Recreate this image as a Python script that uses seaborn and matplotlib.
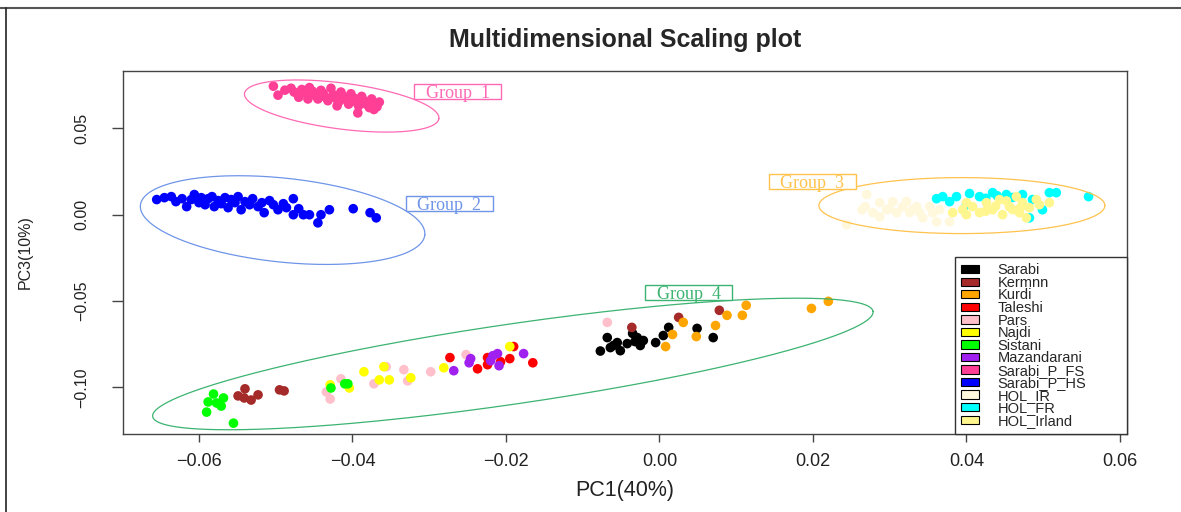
"""
Multidimensional Scaling plot
-----------------------------

PC1 vs PC3 of the MDS, one colour per breed, with the four group ellipses.
"""

import matplotlib
matplotlib.use("Agg")
import matplotlib.pyplot as plt
from matplotlib.patches import Patch, Rectangle
from matplotlib.lines import Line2D
import numpy as np
import pandas as pd
import seaborn as sns

# breeds and their colours (legend order)
breeds = ["Sarabi", "Kermnn", "Kurdi", "Taleshi", "Pars", "Najdi", "Sistani",
          "Mazandarani", "Sarabi_P_FS", "Sarabi_P_HS", "HOL_IR", "HOL_FR", "HOL_Irland"]
breed_colors = ["#000000", "#A52A2A", "#FFA500", "#FF0000", "#FFC0CB", "#FFFF00", "#00FF00",
                "#A020F0", "#FF3E96", "#0000FF", "#FFF8DC", "#00FFFF", "#FFF68F"]

# (PC1, PC3)
sarabi = [(-0.0077, -0.0790), (-0.0068, -0.0712), (-0.0064, -0.0770), (-0.0055, -0.0741),
          (-0.0051, -0.0788), (-0.0042, -0.0747), (-0.0035, -0.0688), (-0.0029, -0.0712),
          (-0.0025, -0.0747), (-0.0021, -0.0729), (-0.0025, -0.0758), (-0.0005, -0.0741),
          (0.0005, -0.0700), (0.0012, -0.0653), (0.0049, -0.0659), (0.0070, -0.0712),
          (-0.0060, -0.0758), (-0.0032, -0.0735)]
kermnn = [(-0.0549, -0.1050), (-0.0540, -0.1009), (-0.0541, -0.1062), (-0.0532, -0.1074),
          (-0.0523, -0.1044), (-0.0495, -0.1015), (-0.0489, -0.1021), (-0.0036, -0.0653),
          (0.0025, -0.0595), (0.0078, -0.0554)]
kurdi = [(0.0008, -0.0764), (0.0017, -0.0694), (0.0031, -0.0624), (0.0048, -0.0706),
         (0.0073, -0.0642), (0.0088, -0.0583), (0.0108, -0.0583), (0.0113, -0.0525),
         (0.0198, -0.0543), (0.0220, -0.0502)]
taleshi = [(-0.0273, -0.0828), (-0.0237, -0.0893), (-0.0224, -0.0869), (-0.0224, -0.0828),
           (-0.0207, -0.0852), (-0.0195, -0.0834), (-0.0190, -0.0764), (-0.0165, -0.0858)]
pars = [(-0.0434, -0.1027), (-0.0429, -0.1068), (-0.0415, -0.0951), (-0.0372, -0.0980),
        (-0.0356, -0.0881), (-0.0333, -0.0898), (-0.0328, -0.0963), (-0.0298, -0.0910),
        (-0.0252, -0.0811), (-0.0068, -0.0624)]
najdi = [(-0.0429, -0.0986), (-0.0404, -0.1004), (-0.0385, -0.0910), (-0.0359, -0.0881),
         (-0.0365, -0.0957), (-0.0352, -0.0957), (-0.0324, -0.0945), (-0.0281, -0.0887),
         (-0.0195, -0.0764)]
sistani = [(-0.0581, -0.1039), (-0.0568, -0.1062), (-0.0588, -0.1085), (-0.0577, -0.1091),
           (-0.0571, -0.1109), (-0.0590, -0.1144), (-0.0555, -0.1208), (-0.0428, -0.1004),
           (-0.0410, -0.0980), (-0.0406, -0.0980)]
mazandarani = [(-0.0268, -0.0904), (-0.0246, -0.0834), (-0.0248, -0.0858), (-0.0217, -0.0817),
               (-0.0211, -0.0805), (-0.0220, -0.0846), (-0.0209, -0.0875), (-0.0177, -0.0805)]
sarabi_p_fs = [(-0.0503, 0.0745), (-0.0497, 0.0693), (-0.0488, 0.0722), (-0.0480, 0.0733),
               (-0.0476, 0.0711), (-0.0470, 0.0681), (-0.0466, 0.0726), (-0.0460, 0.0703),
               (-0.0456, 0.0737), (-0.0452, 0.0716), (-0.0448, 0.0691), (-0.0445, 0.0671),
               (-0.0441, 0.0721), (-0.0438, 0.0703), (-0.0435, 0.0681), (-0.0432, 0.0661),
               (-0.0428, 0.0733), (-0.0425, 0.0696), (-0.0422, 0.0676), (-0.0418, 0.0653),
               (-0.0415, 0.0711), (-0.0412, 0.0686), (-0.0408, 0.0666), (-0.0405, 0.0641),
               (-0.0402, 0.0701), (-0.0398, 0.0676), (-0.0395, 0.0653), (-0.0392, 0.0631),
               (-0.0388, 0.0686), (-0.0385, 0.0661), (-0.0382, 0.0641), (-0.0378, 0.0621),
               (-0.0375, 0.0671), (-0.0372, 0.0646), (-0.0368, 0.0626), (-0.0365, 0.0653),
               (-0.0393, 0.0590), (-0.0372, 0.0610), (-0.0458, 0.0671), (-0.0420, 0.0631)]
sarabi_p_hs = [(-0.0655, 0.0088), (-0.0645, 0.0099), (-0.0636, 0.0105), (-0.0630, 0.0076),
               (-0.0622, 0.0093), (-0.0616, 0.0047), (-0.0610, 0.0088), (-0.0606, 0.0117),
               (-0.0600, 0.0070), (-0.0597, 0.0099), (-0.0592, 0.0058), (-0.0588, 0.0093),
               (-0.0583, 0.0105), (-0.0580, 0.0047), (-0.0575, 0.0082), (-0.0571, 0.0064),
               (-0.0566, 0.0099), (-0.0562, 0.0041), (-0.0558, 0.0088), (-0.0553, 0.0070),
               (-0.0549, 0.0105), (-0.0545, 0.0029), (-0.0540, 0.0076), (-0.0534, 0.0058),
               (-0.0530, 0.0093), (-0.0523, 0.0047), (-0.0518, 0.0070), (-0.0515, 0.0012),
               (-0.0508, 0.0082), (-0.0503, 0.0058), (-0.0497, 0.0029), (-0.0490, 0.0064),
               (-0.0486, 0.0041), (-0.0477, 0.0093), (-0.0477, 0.0000), (-0.0470, 0.0035),
               (-0.0464, 0.0000), (-0.0456, 0.0000), (-0.0445, -0.0047), (-0.0441, 0.0000),
               (-0.0430, 0.0029), (-0.0399, 0.0035), (-0.0377, 0.0012), (-0.0369, -0.0018)]
hol_ir = [(0.0244, -0.0058), (0.0264, 0.0029), (0.0268, 0.0047), (0.0270, 0.0117),
          (0.0278, 0.0012), (0.0287, 0.0070), (0.0287, -0.0012), (0.0296, 0.0029),
          (0.0304, 0.0076), (0.0309, 0.0012), (0.0317, 0.0047), (0.0322, 0.0076),
          (0.0326, 0.0012), (0.0335, 0.0047), (0.0339, 0.0012), (0.0343, -0.0018),
          (0.0352, 0.0047), (0.0356, 0.0012), (0.0361, -0.0041), (0.0365, 0.0029),
          (0.0378, -0.0041), (0.0300, 0.0035), (0.0330, 0.0029)]
hol_fr = [(0.0361, 0.0093), (0.0369, 0.0105), (0.0378, 0.0076), (0.0387, 0.0105),
          (0.0400, 0.0058), (0.0404, 0.0123), (0.0417, 0.0105), (0.0434, 0.0128),
          (0.0452, 0.0117), (0.0473, 0.0117), (0.0486, 0.0088), (0.0508, 0.0128),
          (0.0517, 0.0128), (0.0559, 0.0105), (0.0499, 0.0029), (0.0482, -0.0018),
          (0.0440, 0.0110), (0.0460, 0.0100), (0.0425, 0.0095)]
hol_irland = [(0.0382, 0.0012), (0.0395, 0.0029), (0.0400, 0.0000), (0.0408, 0.0047),
              (0.0417, 0.0012), (0.0426, 0.0070), (0.0434, 0.0029), (0.0443, 0.0088),
              (0.0447, 0.0000), (0.0456, 0.0047), (0.0465, 0.0105), (0.0469, 0.0012),
              (0.0473, 0.0070), (0.0478, -0.0018), (0.0482, 0.0041), (0.0491, 0.0088),
              (0.0495, 0.0058), (0.0508, 0.0070), (0.0400, 0.0070), (0.0438, 0.0050),
              (0.0460, 0.0030), (0.0452, 0.0080), (0.0470, 0.0040), (0.0425, 0.0020)]

breed_points = [sarabi, kermnn, kurdi, taleshi, pars, najdi, sistani, mazandarani,
                sarabi_p_fs, sarabi_p_hs, hol_ir, hol_fr, hol_irland]

# group ellipses: label, centre (data), label position (data), colour
group_labels = ["Group  1", "Group  2", "Group  3", "Group  4"]
group_centers = [(-0.0414, 0.0630), (-0.0491, -0.0031), (0.0394, 0.0053), (-0.0191, -0.0865)]
group_label_pos = [(-0.0263, 0.0712), (-0.0274, 0.0064), (0.0199, 0.0193), (0.0038, -0.0449)]
group_colors = ["#FF69B4", "#6F95E8", "#FFC24D", "#3CB371"]
# semi axes (pixels) and tilt (degrees) of each ellipse
group_shape = [(98, 23, -7.4), (143, 42, -6.0), (143, 28, 0.0), (364, 40, 8.3)]

rows = []
for name, pts in zip(breeds, breed_points):
    for x, y in pts:
        rows.append([name, x, y])
df = pd.DataFrame(rows, columns=["breed", "PC1", "PC3"])

sns.set_style("white")
plt.rcParams['font.family'] = ['Liberation Sans', 'DejaVu Sans']

fig = plt.figure(figsize=(11.81, 5.12), dpi=100)
ax = fig.add_axes([0.1041, 0.1523, 0.8501, 0.7090])

sns.scatterplot(data=df, x="PC1", y="PC3", hue="breed", hue_order=breeds,
                palette=dict(zip(breeds, breed_colors)), s=48, linewidth=0,
                legend=False, ax=ax)

ax.set_xlim(-0.0699, 0.0609)
ax.set_ylim(-0.1271, 0.0833)
ax.set_xticks([-0.06, -0.04, -0.02, 0.00, 0.02, 0.04, 0.06])
ax.set_xticklabels(["\u22120.06", "\u22120.04", "\u22120.02", "0.00", "0.02", "0.04", "0.06"])
ax.set_yticks([-0.10, -0.05, 0.00, 0.05])
ax.set_yticklabels(["\u22120.10", "\u22120.05", "0.00", "0.05"])

to_px = ax.transData.transform
to_data = ax.transData.inverted().transform

# ellipses, built in pixel space so the tilt looks right
t = np.linspace(0, 2 * np.pi, 400)
for center, (a, b, ang), col in zip(group_centers, group_shape, group_colors):
    cx, cy = to_px(center)
    th = np.deg2rad(ang)
    px = cx + a * np.cos(t) * np.cos(th) - b * np.sin(t) * np.sin(th)
    py = cy + a * np.cos(t) * np.sin(th) + b * np.sin(t) * np.cos(th)
    xy = to_data(np.column_stack([px, py]))
    ax.plot(xy[:, 0], xy[:, 1], color=col, lw=0.9, scalex=False, scaley=False)

# group labels in a flat box (87 x 15 px)
for lab, pos, col in zip(group_labels, group_label_pos, group_colors):
    cx, cy = to_px(pos)
    (x0, y0), (x1, y1) = to_data([(cx - 43.5, cy - 7.5), (cx + 43.5, cy + 7.5)])
    ax.add_patch(Rectangle((x0, y0), x1 - x0, y1 - y0, fc='white', ec=col, lw=1, zorder=3))
    ax.text(pos[0], pos[1], lab, color=col, fontsize=13, family='Liberation Serif',
            ha='center', va='center_baseline', zorder=4)

# axes look (R base graphics)
for side in ["top", "right", "bottom", "left"]:
    ax.spines[side].set_color("#444444")
    ax.spines[side].set_linewidth(1.0)
ax.tick_params(axis='x', direction='out', length=6, width=1, color="#444444",
               labelsize=13, labelcolor="#222222", pad=8, bottom=True)
ax.tick_params(axis='y', direction='out', length=8, width=1, color="#444444",
               labelsize=11.5, labelcolor="#222222", pad=16, left=True)
plt.setp(ax.get_yticklabels(), rotation=90, va='center')

ax.set_xlabel("PC1(40%)", fontsize=15.5, color="#222222", va='center')
ax.xaxis.set_label_coords(0.5, (434 - 490) / 363)
ax.set_ylabel("PC3(10%)", fontsize=11.5, color="#222222", va='center')
ax.yaxis.set_label_coords((25 - 123) / 1004, 0.5)
ax.set_title("Multidimensional Scaling plot", fontsize=18, fontweight='bold',
             y=(434 - 40) / 363, va='center', pad=0)

handles = [Patch(facecolor=c, edgecolor='black', linewidth=0.8) for c in breed_colors]
leg = ax.legend(handles, breeds, loc='lower left', mode='expand',
                bbox_to_anchor=(0.8287, 0.0, 0.1713, 0.479), borderaxespad=0,
                fontsize=10.5, labelspacing=-0.1, handlelength=1.2, handleheight=0.5,
                handletextpad=1.3, borderpad=0.42, fancybox=False, framealpha=1)
leg.get_frame().set_edgecolor("#333333")
leg.get_frame().set_linewidth(1.0)

# outer frame of the original picture (top and left edges)
fig.add_artist(Line2D([0, 1], [1 - 8 / 512, 1 - 8 / 512], color="#555555", lw=1.5))
fig.add_artist(Line2D([6 / 1181, 6 / 1181], [0, 1 - 8 / 512], color="#222222", lw=1.2))

plt.savefig("out.png", dpi=100)
plt.close()
